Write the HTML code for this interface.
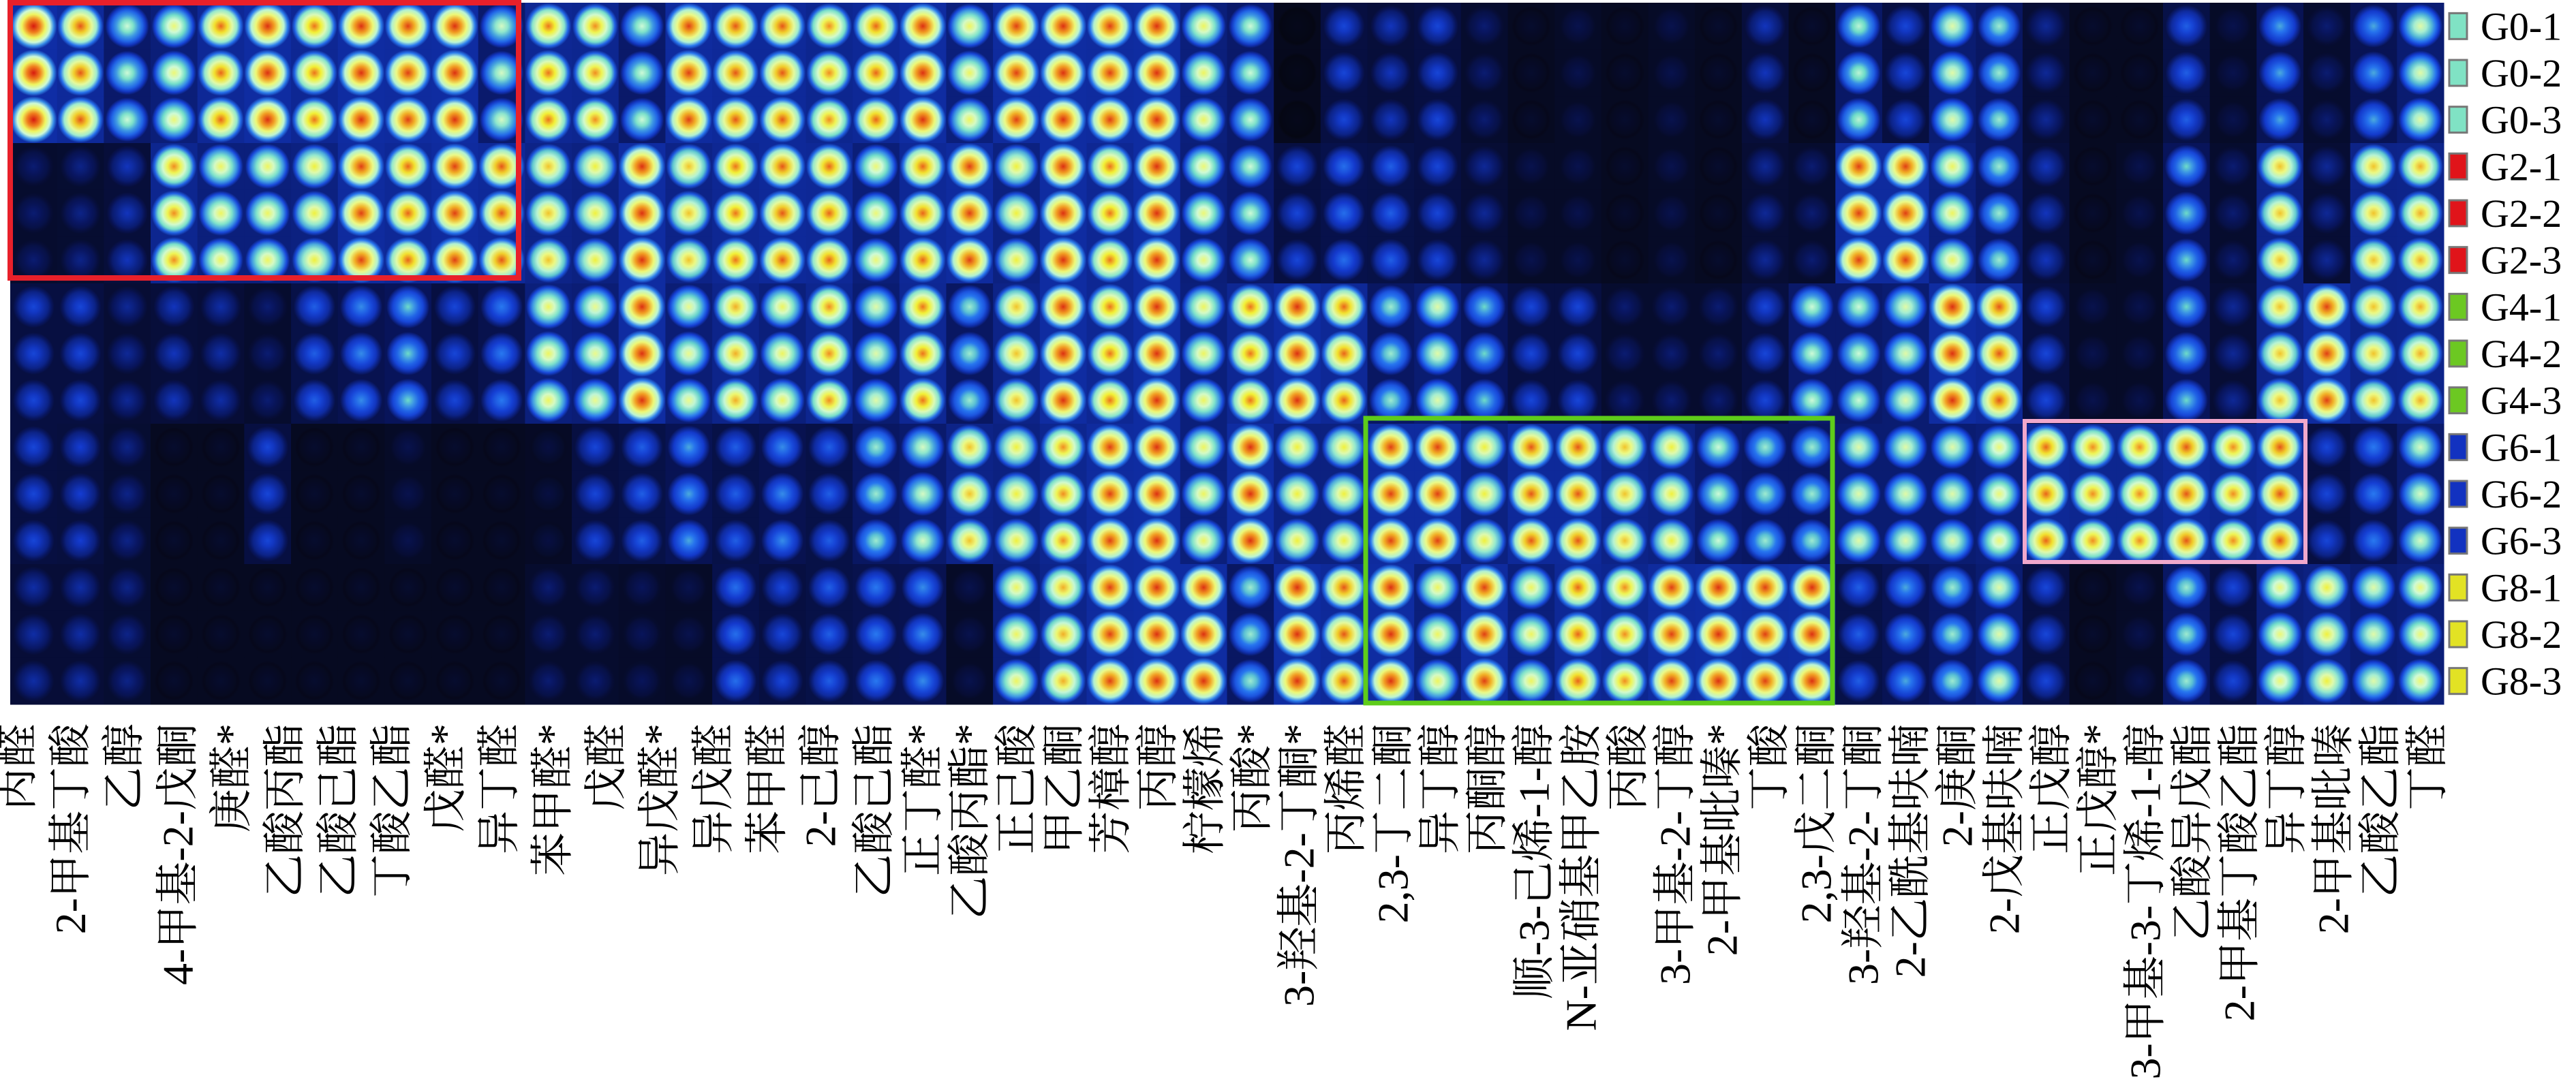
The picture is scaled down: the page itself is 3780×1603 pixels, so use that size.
<!DOCTYPE html>
<html><head><meta charset="utf-8">
<style>
html,body{margin:0;padding:0;background:#fff;}
svg{display:block;}
.lbl{font-family:"Liberation Serif","Noto Serif CJK SC",serif;font-size:64px;fill:#000;}
.leg{font-family:"Liberation Serif","Noto Serif CJK SC",serif;font-size:58px;fill:#000;}
</style></head>
<body>
<svg id="chart" width="3780" height="1603" viewBox="0 0 3780 1603" xmlns="http://www.w3.org/2000/svg">
<defs id="defs"></defs>
<g id="cells"></g>
<g id="boxes">
<rect x="15" y="4" width="746" height="404" fill="none" stroke="#e8202a" stroke-width="8"/>
<rect x="2004" y="614" width="685" height="418" fill="none" stroke="#5ecc1a" stroke-width="7"/>
<rect x="2971" y="618" width="412" height="207" fill="none" stroke="#f0a8cc" stroke-width="6"/>
</g>
<g id="labels"></g>
<g id="legend"></g>
</svg>
<script>
// compound labels (x axis)
const labels = ["丙醛","2-甲基丁酸","乙醇","4-甲基-2-戊酮","庚醛*","乙酸丙酯","乙酸己酯","丁酸乙酯","戊醛*","异丁醛","苯甲醛*","戊醛","异戊醛*","异戊醛","苯甲醛","2-己醇","乙酸己酯",
"正丁醛*","乙酸丙酯*","正己酸","甲乙酮","芳樟醇","丙醇","柠檬烯","丙酸*","3-羟基-2-丁酮*","丙烯醛","2,3-丁二酮","异丁醇","丙酮醇","顺-3-己烯-1-醇","N-亚硝基甲乙胺","丙酸","3-甲基-2-丁醇","2-甲基吡嗪*",
"丁酸","2,3-戊二酮","3-羟基-2-丁酮","2-乙酰基呋喃","2-庚酮","2-戊基呋喃","正戊醇","正戊醇*","3-甲基-3-丁烯-1-醇","乙酸异戊酯","2-甲基丁酸乙酯","异丁醇","2-甲基吡嗪","乙酸乙酯","丁醛"];
// sample groups (legend / rows)
const groups = ["G0","G2","G4","G6","G8"];
const replicates = ["1","2","3"];
// signal intensity per peak column (0..1), one array per group
const g0 = [1.0,0.92,0.6,0.7,0.9,0.97,0.88,0.97,0.95,0.97,0.62,0.88,0.85,0.6,0.95,0.92,0.92,0.85,0.9,0.97,0.72,0.95,0.97,0.95,0.97,0.72,0.6,0.02,0.3,0.25,0.3,0.15,0.05,0.1,0.05,0.1,0.05,0.25,0.05,0.58,0.3,0.65,0.55,0.2,0.05,0.05,0.35,0.1,0.45,0.15,0.45,0.65];
const g2 = [0.15,0.18,0.25,0.85,0.72,0.72,0.75,0.95,0.9,0.95,0.92,0.8,0.75,0.97,0.8,0.88,0.92,0.9,0.7,0.9,0.95,0.75,0.97,0.88,0.97,0.7,0.6,0.3,0.38,0.35,0.3,0.2,0.1,0.1,0.05,0.1,0.05,0.2,0.15,0.95,0.95,0.72,0.55,0.25,0.05,0.1,0.5,0.15,0.8,0.2,0.8,0.82];
const g4 = [0.3,0.3,0.2,0.25,0.22,0.15,0.35,0.42,0.5,0.3,0.4,0.72,0.68,0.97,0.68,0.82,0.72,0.85,0.65,0.88,0.55,0.8,0.97,0.88,0.97,0.72,0.88,0.97,0.9,0.55,0.65,0.5,0.3,0.3,0.15,0.15,0.15,0.3,0.6,0.6,0.65,0.97,0.92,0.3,0.1,0.1,0.5,0.2,0.8,0.95,0.8,0.82];
const g6 = [0.3,0.28,0.18,0.05,0.05,0.3,0.05,0.05,0.1,0.05,0.05,0.08,0.3,0.35,0.45,0.35,0.42,0.35,0.55,0.62,0.8,0.75,0.85,0.95,0.97,0.72,0.97,0.75,0.75,0.95,0.95,0.75,0.92,0.92,0.8,0.75,0.6,0.55,0.55,0.65,0.65,0.65,0.7,0.9,0.85,0.85,0.92,0.85,0.92,0.3,0.4,0.62];
const g8 = [0.22,0.22,0.18,0.05,0.05,0.05,0.05,0.05,0.05,0.05,0.05,0.15,0.15,0.12,0.1,0.38,0.3,0.35,0.4,0.42,0.1,0.72,0.82,0.95,0.97,0.97,0.55,0.97,0.92,0.97,0.72,0.95,0.72,0.9,0.85,0.95,0.97,0.95,0.97,0.35,0.45,0.55,0.65,0.3,0.05,0.1,0.55,0.3,0.7,0.75,0.65,0.7];
const series = [g0,g2,g4,g6,g8];
const legendColors = ["#80e2c4","#e0141a","#6cc822","#1232c0","#e2e224"];

// layout
const X0 = 15, X1 = 3586, Y0 = 4, Y1 = 1034;
const nCols = g0.length, nRows = groups.length * replicates.length;
const cw = (X1 - X0) / nCols, ch = (Y1 - Y0) / nRows;
const xCol = i => X0 + i * cw;
const yRow = r => Y0 + r * ch;

const cmapStops = [[0,[5,6,14]],[0.12,[8,20,90]],[0.28,[20,60,210]],[0.4,[40,120,240]],[0.5,[110,220,200]],[0.6,[205,250,215]],[0.68,[235,250,140]],[0.76,[242,240,50]],[0.86,[240,130,30]],[1,[215,25,15]]];
function cmap(t){
  t = Math.max(0, Math.min(1, t));
  for (let k = 1; k < cmapStops.length; k++) {
    if (t <= cmapStops[k][0]) {
      const [a, ca] = cmapStops[k-1], [b, cb] = cmapStops[k];
      const f = (t - a) / (b - a);
      return "rgb(" + ca.map((v, j) => Math.round(v + (cb[j] - v) * f)).join(",") + ")";
    }
  }
  return "rgb(215,25,15)";
}
const NS = "http://www.w3.org/2000/svg";
const defs = document.getElementById("defs");
const cells = document.getElementById("cells");
let gid = 0;
for (let g = 0; g < groups.length; g++) {
  for (let rep = 0; rep < replicates.length; rep++) {
    const r = g * 3 + rep;
    for (let c = 0; c < nCols; c++) {
      const v = series[g][c];
      const x = xCol(c), y = yRow(r);
      const bg = document.createElementNS(NS, "rect");
      
      
      bg.setAttribute("x", x); bg.setAttribute("y", y);
      bg.setAttribute("width", cw + 0.5); bg.setAttribute("height", ch + 0.5);
      bg.setAttribute("fill", cmap(0.02 + v * 0.2));
      cells.appendChild(bg);
      const id = "gr" + (gid++);
      const grad = document.createElementNS(NS, "radialGradient");
      grad.setAttribute("id", id);
      [[0, 1], [0.28, 0.86], [0.5, 0.72], [0.7, 0.6], [0.86, 0.42], [1, 0.2]].forEach(([o, m]) => {
        const s = document.createElementNS(NS, "stop");
        s.setAttribute("offset", o);
        s.setAttribute("stop-color", cmap(o === 1 ? 0.02 + v * 0.2 : v * m));
        grad.appendChild(s);
      });
      defs.appendChild(grad);
      const e = document.createElementNS(NS, "ellipse");
      
      
      e.setAttribute("cx", x + cw / 2); e.setAttribute("cy", y + ch / 2);
      e.setAttribute("rx", cw * (0.42 + 0.08 * v)); e.setAttribute("ry", ch * (0.43 + 0.07 * v));
      e.setAttribute("fill", "url(#" + id + ")");
      cells.appendChild(e);
    }
  }
}
// x labels
const lg = document.getElementById("labels");
labels.forEach((t, i) => {
  const lx = i < 17 ? 25 + i * 78.6 : 1354 + (i - 17) * 69;
  const tx = document.createElementNS(NS, "text");
  
  
  tx.setAttribute("class", "lbl");
  tx.setAttribute("text-anchor", "end");
  tx.setAttribute("dominant-baseline", "central");
  tx.setAttribute("transform", "translate(" + lx + ",1062) rotate(-90)");
  tx.textContent = t;
  lg.appendChild(tx);
});
// legend
const leg = document.getElementById("legend");
for (let g = 0; g < groups.length; g++) {
  for (let rep = 0; rep < replicates.length; rep++) {
    const r = g * 3 + rep;
    const cy = yRow(r) + ch / 2;
    const sq = document.createElementNS(NS, "rect");
    
    
    sq.setAttribute("x", 3594); sq.setAttribute("y", cy - 19);
    sq.setAttribute("width", 26); sq.setAttribute("height", 38);
    sq.setAttribute("fill", legendColors[g]);
    sq.setAttribute("stroke", "#777"); sq.setAttribute("stroke-width", "3");
    leg.appendChild(sq);
    const t = document.createElementNS(NS, "text");
    
    
    t.setAttribute("class", "leg");
    t.setAttribute("x", 3640); t.setAttribute("y", cy + 20);
    t.textContent = groups[g] + "-" + replicates[rep];
    leg.appendChild(t);
  }
}
</script>
</body></html>
